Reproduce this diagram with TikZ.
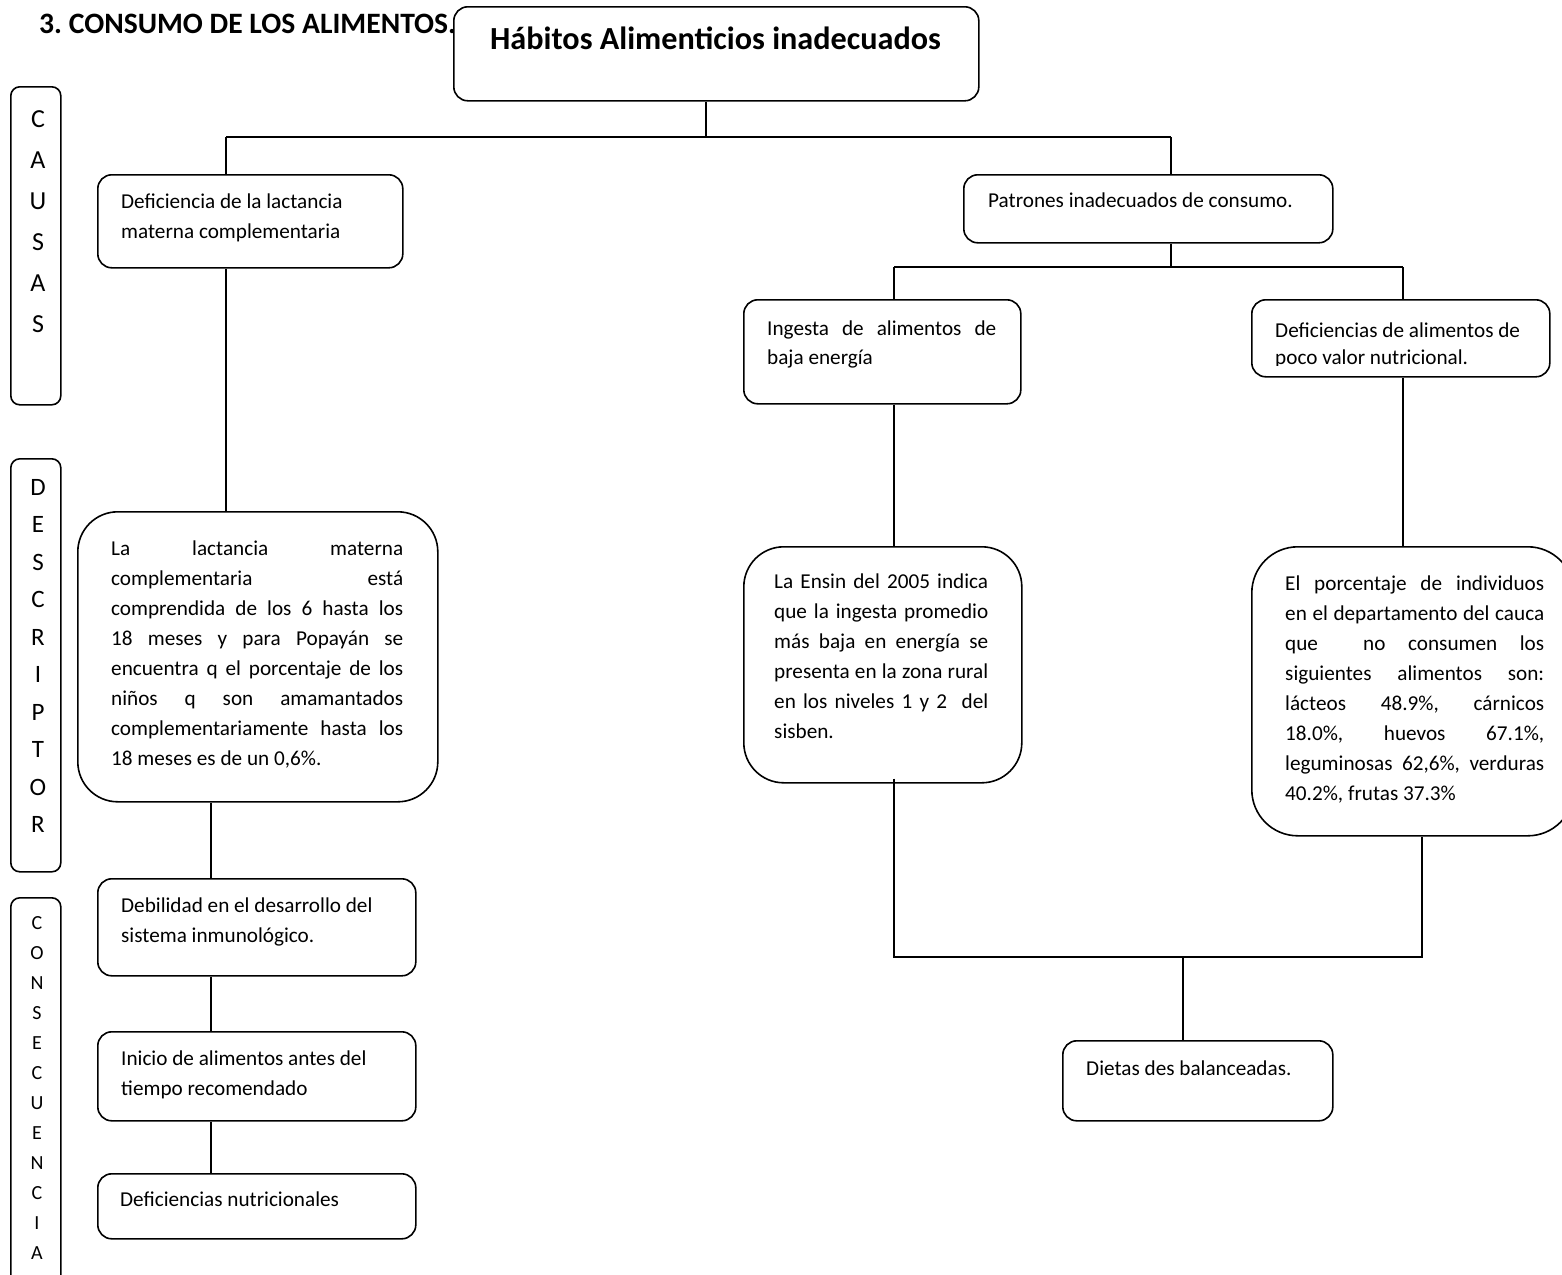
\documentclass[tikz,border=0pt]{standalone}
\usepackage{fontspec}
\setmainfont{Carlito}
\usetikzlibrary{calc}
\frenchspacing

% one full-width justified line of a paragraph
\newcommand\jline[2]{\makebox[#1][s]{#2}}

\tikzset{
  box/.style={draw, line width=1.6pt, rounded corners=14pt, inner sep=0pt,
              anchor=north west, fill=white},
  bigbox/.style={box, rounded corners=40pt},
  sidebox/.style={box, rounded corners=9pt},
  conn/.style={line width=1.6pt},
  txt/.style={inner sep=0pt, anchor=base west, font=\fontsize{21.2}{30}\selectfont},
  side/.style={inner sep=0pt, anchor=base},
}

\begin{document}
\begin{tikzpicture}[x=1pt, y=-1pt]
\useasboundingbox (0,0) rectangle (1562,1274);
\fill[white] (0,0) rectangle (1562,1274);

% ---- heading and root ----
\node[inner sep=0pt, anchor=base west, font=\fontsize{29.6}{34}\selectfont\bfseries]
  (head) at (39,33) {3. CONSUMO DE LOS ALIMENTOS.};
\node[box, minimum width=525pt, minimum height=94pt] (title) at (453,6) {};
\node[inner sep=0pt, anchor=base, font=\fontsize{32.2}{38}\selectfont\bfseries]
  (titletxt) at (715.5,49) {Hábitos Alimenticios inadecuados};

% ---- side column labels ----
\node[sidebox, minimum width=50pt, minimum height=318pt] (causas) at (10,86) {};
\node[side] (causastxt) at (38,127)
  {\parbox[t]{40pt}{\centering\fontsize{26}{41}\selectfont C\\A\\U\\S\\A\\S}};

\node[sidebox, minimum width=50pt, minimum height=413pt] (descr) at (10,458) {};
\node[side] (descrtxt) at (38,495)
  {\parbox[t]{40pt}{\centering\fontsize{25}{37.5}\selectfont D\\E\\S\\C\\R\\I\\P\\T\\O\\R}};

\node[sidebox, minimum width=50pt, minimum height=400pt] (conse) at (10,897) {};
\node[side] (consetxt) at (37,929)
  {\parbox[t]{40pt}{\centering\fontsize{20}{30}\selectfont C\\O\\N\\S\\E\\C\\U\\E\\N\\C\\I\\A}};

% ---- left branch ----
\node[box, minimum width=305pt, minimum height=93pt] (lbox) at (97,174) {};
\node[txt] (lboxtxt) at (121,208)
  {\parbox[t]{280pt}{Deficiencia de la lactancia\\materna complementaria}};

\node[bigbox, minimum width=360pt, minimum height=290pt] (ldesc) at (77,511) {};
\node[txt] (ldesctxt) at (111,555) {\parbox[t]{292pt}{%
  \jline{292pt}{La lactancia materna}\\
  \jline{292pt}{complementaria está}\\
  \jline{292pt}{comprendida de los 6 hasta los}\\
  \jline{292pt}{18 meses y para Popayán se}\\
  \jline{292pt}{encuentra q el porcentaje de los}\\
  \jline{292pt}{niños q son amamantados}\\
  \jline{292pt}{complementariamente hasta los}\\
  18 meses es de un 0,6\%.}};

\node[box, minimum width=318pt, minimum height=97pt] (lc1) at (97,878) {};
\node[txt] (lc1txt) at (121,912)
  {\parbox[t]{290pt}{Debilidad en el desarrollo del\\sistema inmunológico.}};

\node[box, minimum width=318pt, minimum height=89pt] (lc2) at (97,1031) {};
\node[txt] (lc2txt) at (121,1065)
  {\parbox[t]{290pt}{Inicio de alimentos antes del\\tiempo recomendado}};

\node[box, minimum width=318pt, minimum height=65pt] (lc3) at (97,1173) {};
\node[txt] (lc3txt) at (120,1206) {Deficiencias nutricionales};

% ---- right branch ----
\node[box, minimum width=369pt, minimum height=68pt] (rbox) at (963,174) {};
\node[txt] (rboxtxt) at (988,207) {Patrones inadecuados de consumo.};

\node[box, minimum width=277pt, minimum height=104pt] (ring) at (743,299) {};
\node[txt] (ringtxt) at (767,335) {\parbox[t]{229pt}{\baselineskip=29pt
  \jline{229pt}{Ingesta de alimentos de}\\
  baja energía}};

\node[box, minimum width=298pt, minimum height=77pt] (rdef) at (1251,299) {};
\begin{scope}
  \clip (1252,300) rectangle (1548,365.5);
  \node[txt] (rdeftxt) at (1275,337)
    {\parbox[t]{270pt}{\baselineskip=27pt Deficiencias de alimentos de\\poco valor nutricional.}};
\end{scope}

\node[bigbox, minimum width=278pt, minimum height=236pt] (rens) at (743,546) {};
\node[txt] (renstxt) at (774,588) {\parbox[t]{214pt}{%
  \jline{214pt}{La Ensin del 2005 indica}\\
  \jline{214pt}{que la ingesta promedio}\\
  \jline{214pt}{más baja en energía se}\\
  \jline{214pt}{presenta en la zona rural}\\
  \jline{214pt}{en los niveles 1 y 2\ \ del}\\
  sisben.}};

\node[bigbox, rounded corners=46pt, minimum width=322pt, minimum height=289pt] (rind) at (1251,546) {};
\node[txt] (rindtxt) at (1285,590) {\parbox[t]{259pt}{%
  \jline{259pt}{El porcentaje de individuos}\\
  \jline{259pt}{en el departamento del cauca}\\
  \jline{259pt}{que\ \ no consumen los}\\
  \jline{259pt}{siguientes alimentos son:}\\
  \jline{259pt}{lácteos 48.9\%, cárnicos}\\
  \jline{259pt}{18.0\%, huevos 67.1\%,}\\
  \jline{259pt}{leguminosas 62,6\%, verduras}\\
  40.2\%, frutas 37.3\%}};

\node[box, minimum width=270pt, minimum height=80pt] (diet) at (1062,1040) {};
\node[txt] (diettxt) at (1086,1075) {Dietas des balanceadas.};

% ---- connectors ----
\coordinate (jTop) at (706,137);
\coordinate (jL) at (226,137);
\coordinate (jR) at (1171,137);
\coordinate (jD) at (211,801);
\coordinate (jP) at (1171,267);
\coordinate (jI) at (894,267);
\coordinate (jF) at (1403,267);
\coordinate (jB1) at (894,957);
\coordinate (jB2) at (1422,957);
\coordinate (jB) at (1183,957);

\draw[conn] (title.south -| jTop) -- (jTop);
\draw[conn] (jL) -- (jR);
\draw[conn] (jL) -- (jL |- lbox.north);
\draw[conn] (jR) -- (jR |- rbox.north);
\draw[conn] (lbox.south -| jL) -- (ldesc.north -| jL);
\draw[conn] (ldesc.south -| jD) -- (lc1.north -| jD);
\draw[conn] (lc1.south -| jD) -- (lc2.north -| jD);
\draw[conn] (lc2.south -| jD) -- (lc3.north -| jD);

\draw[conn] (rbox.south -| jP) -- (jP);
\draw[conn] (jI) -- (jF);
\draw[conn] (jI) -- (jI |- ring.north);
\draw[conn] (jF) -- (jF |- rdef.north);
\draw[conn] (ring.south -| jI) -- (rens.north -| jI);
\draw[conn] (rdef.south -| jF) -- (rind.north -| jF);
\draw[conn] ($(rens.south -| jB1)+(0,-5)$) -- (jB1) -- (jB2) -- (rind.south -| jB2);
\draw[conn] (jB) -- (diet.north -| jB);
\end{tikzpicture}
\end{document}
